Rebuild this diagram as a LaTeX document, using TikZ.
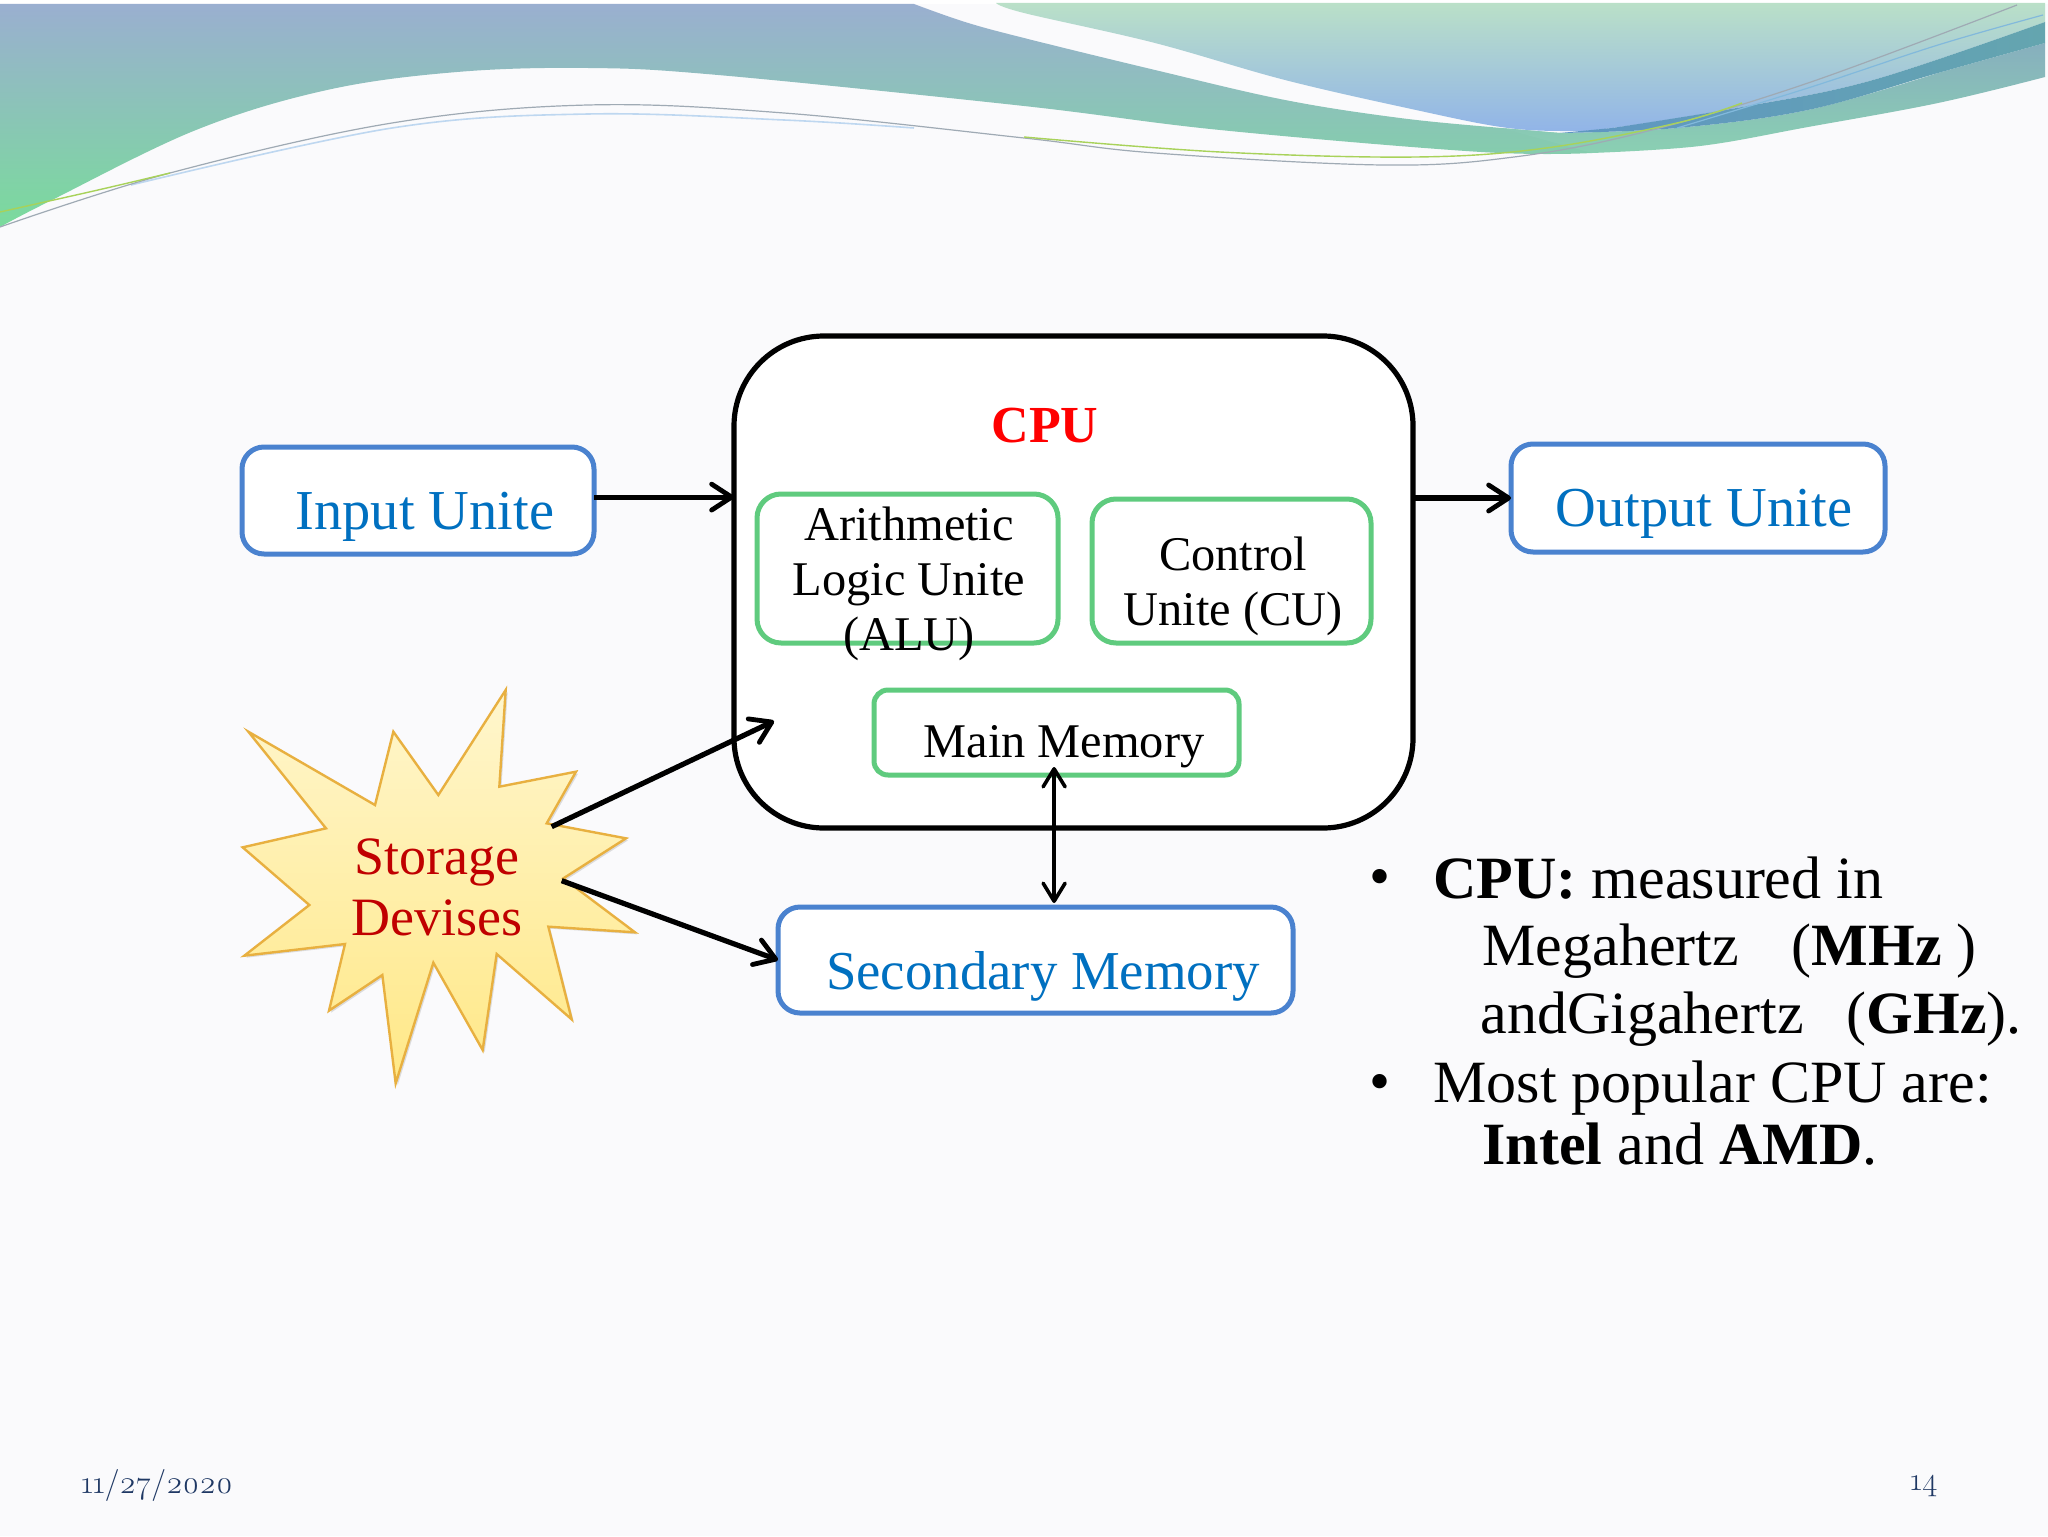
\documentclass[tikz,border=0pt]{standalone}
\usepackage{fontspec}
\setmainfont{Liberation Serif}
\newfontfamily\osf[Numbers=OldStyle]{Latin Modern Roman}
\usetikzlibrary{arrows.meta,shadows}
\definecolor{bgc}{HTML}{FAFAFC}
\definecolor{boxblue}{HTML}{4A82CF}
\definecolor{boxgreen}{HTML}{5FCB7E}
\definecolor{textblue}{HTML}{0070C0}
\definecolor{darkred}{HTML}{C00000}
\definecolor{navy}{HTML}{1F3864}
\definecolor{bandtop}{HTML}{9AAFD0}
\definecolor{bandbot}{HTML}{7ADB9C}
\definecolor{wavetop}{HTML}{BAE0C8}
\definecolor{wavebot}{HTML}{91B4E8}
\definecolor{lowtop}{HTML}{87AFBE}
\definecolor{lowbot}{HTML}{8AD0B2}
\definecolor{darkl}{HTML}{5F96C3}
\definecolor{darkr}{HTML}{64A5AF}
\definecolor{linepale}{HTML}{BED7F0}
\definecolor{lineblue}{HTML}{82B9DC}
\definecolor{linegrey}{HTML}{9FAAB4}
\definecolor{linegreen}{HTML}{A8D25A}
\definecolor{starline}{HTML}{E8B040}
\definecolor{startop}{HTML}{FFF6CD}
\definecolor{starbot}{HTML}{FFE887}
\tikzset{
  bluebox/.style={draw=boxblue,line width=2.5pt,rounded corners=11pt,fill=white,inner sep=0pt,outer sep=0pt},
  greenbox/.style={draw=boxgreen,line width=2.5pt,rounded corners=12pt,fill=white,inner sep=0pt,outer sep=0pt},
  cpubox/.style={draw=black,line width=2.6pt,rounded corners=45pt,fill=white,inner sep=0pt,outer sep=0pt},
  bluetext/.style={text=textblue,font=\fontsize{28.2}{32}\selectfont,inner sep=0pt},
  blacktext/.style={text=black,font=\fontsize{24.2}{27.4}\selectfont,inner sep=0pt,align=center},
  redtext/.style={text=darkred,font=\fontsize{27}{30.5}\selectfont,inner sep=0pt,align=center},
  bodytext/.style={text=black,font=\fontsize{30}{33}\selectfont,inner sep=0pt,anchor=west},
  foottext/.style={text=navy,font=\osf\fontsize{16}{18}\selectfont,inner sep=0pt},
  thickarrow/.style={draw=black,line width=2.6pt,-{Straight Barb[length=10pt,width=13pt,line width=2.4pt,round]}},
  thinarrow/.style={draw=black,line width=1.8pt,{Straight Barb[length=9pt,width=11pt,line width=1.8pt,round]}-{Straight Barb[length=9pt,width=11pt,line width=1.8pt,round]}}
}
\begin{document}
\begin{tikzpicture}[x=0.5pt,y=-0.5pt]
\useasboundingbox (0,0) rectangle (2048,1536);
\fill[bgc] (0,0) rectangle (2048,1536);
\fill[white] (0,0) rectangle (2048,4);
% left band
\shade[top color=bandtop,bottom color=bandbot]
  (0,4) -- plot[smooth,tension=.6] coordinates {(914,4)(965,22)(1024,38)(1155,70)(1285,100)(1400,118)(1501,128)(1560,133)}
  -- plot[smooth,tension=.6] coordinates {(1592,153)(1481,152)(1220,130)(1024,106)(718,75)(588,68)(457,72)(327,90)(196,130)(52,200)(0,227)} -- cycle;
% right top shape
\shade[top color=wavetop,bottom color=wavebot]
  (996,3) -- (2045,3) -- plot[smooth,tension=.6] coordinates {(2045,22)(1873,80)(1742,107)(1612,128)(1560,131)(1501,127)(1416,110)(1285,80)(1155,43)(1024,13)(996,3)} -- cycle;
% lower right band
\shade[top color=lowtop,bottom color=lowbot]
  (2045,43) -- plot[smooth,tension=.6] coordinates {(1938,73)(1808,110)(1677,128)(1560,133)} -- (1501,128) -- plot[smooth,tension=.6] coordinates {(1592,153)(1700,146)(1808,127)(1938,103)(2045,77)} -- cycle;
% dark band
\shade[left color=darkl,right color=darkr]
  (1560,133) -- plot[smooth,tension=.6] coordinates {(1612,128)(1742,107)(1873,80)(2045,22)} -- plot[smooth,tension=.6] coordinates {(2045,43)(1938,73)(1808,110)(1677,128)(1560,133)} -- cycle;
% thin ribbon lines
\draw[linepale,line width=.8pt] plot[smooth,tension=.6] coordinates {(131,185)(392,128)(588,114)(784,120)(914,128)};
\draw[lineblue,line width=.6pt] plot[smooth,tension=.6] coordinates {(1677,128)(1808,88)(1938,45)(2043,15)};
\draw[linegrey,line width=.6pt] plot[smooth,tension=.6] coordinates {(0,227)(170,173)(392,123)(588,105)(784,113)(1024,138)(1155,153)(1383,165)(1514,157)(1644,132)(1808,83)(2017,5)};
\draw[linegreen,line width=.7pt] plot[smooth,tension=.6] coordinates {(0,212)(98,190)(170,173)};
\draw[linegreen,line width=.7pt] plot[smooth,tension=.6] coordinates {(1024,137)(1220,152)(1416,157)(1546,148)(1677,123)(1742,103)};

% CPU and boxes
\node[cpubox,minimum width=339.5pt,minimum height=246pt] (cpu) at (1073.5,582) {};
\node[bluebox,minimum width=176pt,minimum height=53.5pt] (input) at (418,500.5) {};
\node[bluebox,minimum width=187pt,minimum height=54pt] (output) at (1698,498) {};
\node[greenbox,minimum width=150.5pt,minimum height=74.5pt] (alu) at (907.5,568.5) {};
\node[greenbox,minimum width=139.5pt,minimum height=72pt] (cu) at (1231.5,571) {};
\node[greenbox,minimum width=182.5pt,minimum height=42.5pt,rounded corners=7pt] (mainmem) at (1056.5,732.5) {};
\node[bluebox,minimum width=257.5pt,minimum height=53pt] (secondary) at (1035.5,960) {};

% labels
\node[bluetext] (inputlabel) at (425,517) {Input Unite};
\node[bluetext] (outputlabel) at (1704,514) {Output Unite};
\node[text=red,font=\bfseries\fontsize{26}{30}\selectfont,inner sep=0pt] (cpulabel) at (1045,426) {CPU};
\node[blacktext] (alulabel) at (909,584) {Arithmetic\\Logic Unite\\(ALU)};
\node[blacktext] (culabel) at (1233,586) {Control\\Unite (CU)};
\node[blacktext] (memlabel) at (1064,747) {Main Memory};
\node[text=textblue,font=\fontsize{27.4}{32}\selectfont,inner sep=0pt] (seclabel) at (1043,976) {Secondary Memory};

% star
\begin{scope}[shift={(220,670)},x=0.16667pt,y=-0.16667pt]
\draw[draw=starline,line width=1.2pt,top color=startop,bottom color=starbot,
  drop shadow={shadow xshift=1pt,shadow yshift=-1pt,opacity=.25,fill=black!50}]
 (85,185)--(465,405)--(520,185)--(655,375)--(857,60)--(838,350)--(1068,305)--(980,460)--(1218,505)--(1030,625)--(1245,787)--(985,770)--(1055,1048)--(830,852)--(788,1140)--(640,878)--(527,1240)--(487,915)--(327,1022)--(375,822)--(73,857)--(268,705)--(68,532)--(318,475)--cycle;
\coordinate (staru) at (995,470);
\coordinate (starl) at (1025,632);
\coordinate (cpuin) at (1662,153);
\end{scope}
\node[redtext] (starlabel) at (437,887) {Storage\\Devises};

% connectors
\draw[thickarrow] ([yshift=1.7pt]input.east) -- ([yshift=1.7pt]input.east -| cpu.west);
\draw[thickarrow] (cpu.east |- output.west) -- (output.west);
\draw[thickarrow] (staru) -- (cpuin);
\draw[thickarrow] (starl) -- (secondary.west);
\draw[thinarrow] ([xshift=-1.2pt,yshift=4pt]mainmem.south) -- ([xshift=-1.2pt,yshift=2pt]mainmem.south |- secondary.north);

% body text
\node[bodytext] (b1) at (1369,883) {•};
\node[bodytext] (l1) at (1433,878) {\textbf{CPU:} measured in};
\node[bodytext] (l2) at (1482,951) {Megahertz\hspace{0.88em}(\textbf{MHz} )};
\node[bodytext] (l3) at (1480,1019) {andGigahertz\hspace{0.72em}(\textbf{GHz}).};
\node[bodytext] (b2) at (1369,1088) {•};
\node[bodytext] (l4) at (1433,1088) {Most popular CPU are:};
\node[bodytext] (l5) at (1482,1144) {\textbf{Intel} and \textbf{AMD}.};

% footer
\node[foottext,anchor=west] (date) at (81,1485) {11/27/2020};
\node[foottext] (page) at (1924,1486) {14};
\end{tikzpicture}
\end{document}
